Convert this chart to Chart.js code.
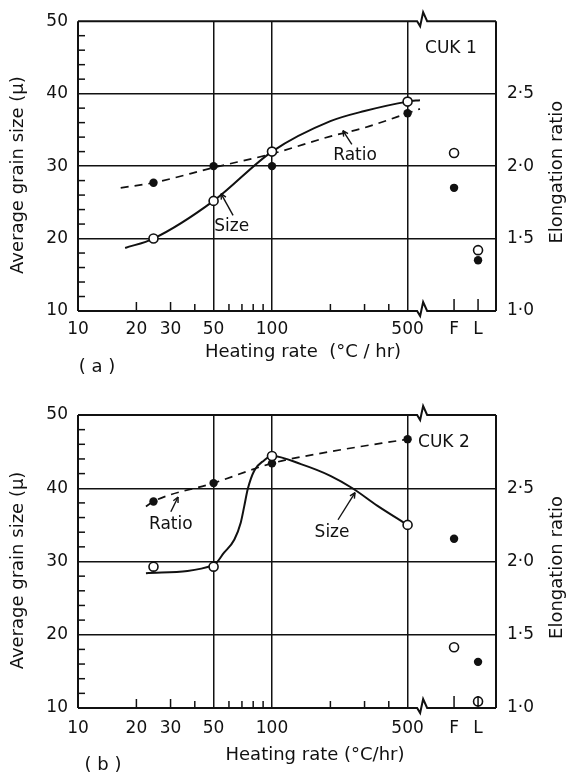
<!DOCTYPE html>
<html>
<head>
<meta charset="utf-8">
<script src="https://cdn.jsdelivr.net/npm/chart.js@4.4.1/dist/chart.umd.min.js"></script>
<style>
  body { margin: 0; background: #fff; }
  canvas { display: block; }
</style>
</head>
<body>
<canvas id="chartA" width="567" height="387"></canvas>
<canvas id="chartB" width="567" height="387"></canvas>
<script>
// heating rates (°C/hr) of the measured specimens, plus the two extra specimens F and L
const rates = [24.5, 50, 100, 500];
const specimens = ['F', 'L'];
const tickValues = [10, 20, 30, 50, 100, 500];
const tickLabels = ['10', '20', '30', '50', '100', '500'];

// CUK 1 -- grain size (μ) and elongation ratio
const sizeA = [20.0, 25.2, 32.0, 38.9];
const ratioA = [1.885, 2.0, 2.0, 2.365];
const specSizeA = [31.8, 18.4];
const specRatioA = [1.85, 1.35];
const sizeCurveRatesA = [17.5, 24.5, 50, 100, 200, 300, 500, 579];
const sizeCurveA = [18.7, 20.0, 25.2, 32.0, 36.2, 37.6, 38.9, 39.1];
const ratioCurveRatesA = [16.6, 24.5, 50, 100, 200, 300, 500, 579];
const ratioCurveA = [1.85, 1.885, 1.99, 2.085, 2.205, 2.265, 2.365, 2.395];

// CUK 2
const sizeB = [29.3, 29.3, 44.4, 35.0];
const ratioB = [2.41, 2.535, 2.67, 2.835];
const specSizeB = [18.3, 10.9];
const specRatioB = [2.155, 1.315];
const sizeCurveRatesB = [22.4, 50, 56.6, 64, 69, 72, 75, 81, 91, 100, 141, 200, 260, 350, 500];
const sizeCurveB = [28.4, 29.5, 31.2, 33.0, 35.3, 37.6, 39.9, 42.4, 43.8, 44.4, 43.3, 41.7, 40.0, 37.6, 35.0];
const ratioCurveRatesB = [22.4, 24.5, 50, 100, 200, 500];
const ratioCurveB = [2.375, 2.41, 2.535, 2.67, 2.75, 2.835];

// where F and L sit on the (broken) rate axis, and where the break is
const SPEC_AT = [868, 1154];
const BREAK_AT = 560;
const X_MAX = 1428;

const INK = '#111';
const NONE = 'rgba(0,0,0,0)';
const FAMILY = '"DejaVu Sans", sans-serif';
Chart.defaults.font.family = FAMILY;
Chart.defaults.color = INK;

const pts = (xs, ys) => xs.map((x, i) => ({ x, y: ys[i] }));

const frame = {
  id: 'frame',
  afterDraw(chart, args, o) {
    const { ctx, chartArea: { left, right, top, bottom }, scales: { x, y } } = chart;
    const line = (x1, y1, x2, y2) => { ctx.beginPath(); ctx.moveTo(x1, y1); ctx.lineTo(x2, y2); ctx.stroke(); };
    ctx.save();
    ctx.strokeStyle = INK;
    ctx.fillStyle = INK;

    // box with the axis break on top and bottom
    ctx.lineWidth = 2;
    const bx = x.getPixelForValue(BREAK_AT);
    [top, bottom].forEach(yy => {
      ctx.beginPath();
      ctx.moveTo(left, yy);
      ctx.lineTo(bx, yy);
      ctx.lineTo(bx + 3, yy + 5);
      ctx.lineTo(bx + 6, yy - 9);
      ctx.lineTo(bx + 10, yy);
      ctx.lineTo(right, yy);
      ctx.stroke();
    });
    line(left, top, left, bottom);
    line(right, top, right, bottom);

    // inward minor ticks
    ctx.lineWidth = 1.5;
    for (let v = 12; v < 50; v += 2) {
      if (v % 10 === 0) continue;
      const py = y.getPixelForValue(v);
      line(left, py, left + 7, py);
    }
    [[20, 9], [30, 9], [40, 7], [60, 7], [70, 7], [80, 7], [90, 7], [200, 7], [300, 7], [400, 7]]
      .concat(SPEC_AT.map(v => [v, 12]))
      .forEach(([v, len]) => {
        const px = x.getPixelForValue(v);
        line(px, bottom, px, bottom - len);
      });

    // axis titles
    ctx.font = '18px ' + FAMILY;
    ctx.textAlign = 'center';
    ctx.textBaseline = 'middle';
    const mid = (top + bottom) / 2;
    ctx.save();
    ctx.translate(18, mid + 9);
    ctx.rotate(-Math.PI / 2);
    ctx.fillText('Average grain size (μ)', 0, 0);
    ctx.restore();
    ctx.save();
    ctx.translate(557, mid + 6);
    ctx.rotate(-Math.PI / 2);
    ctx.fillText('Elongation ratio', 0, 0);
    ctx.restore();
    ctx.fillText(o.xTitle, o.xTitleAt[0], o.xTitleAt[1]);
    ctx.fillText(o.tag, o.tagAt[0], o.tagAt[1]);

    // labels inside the plot, placed in data units
    ctx.font = '17px ' + FAMILY;
    o.notes.forEach(n => {
      ctx.textAlign = n.align || 'center';
      ctx.fillText(n.text, x.getPixelForValue(n.x), y.getPixelForValue(n.y));
    });
    ctx.lineWidth = 1.4;
    o.arrows.forEach(a => {
      const x1 = x.getPixelForValue(a.from[0]), y1 = y.getPixelForValue(a.from[1]);
      const x2 = x.getPixelForValue(a.to[0]), y2 = y.getPixelForValue(a.to[1]);
      line(x1, y1, x2, y2);
      const ang = Math.atan2(y2 - y1, x2 - x1);
      [0.45, -0.45].forEach(d => line(x2, y2, x2 - 6 * Math.cos(ang + d), y2 - 6 * Math.sin(ang + d)));
    });
    ctx.restore();
  }
};

function makePanel(id, p) {
  const allTicks = tickValues.concat(SPEC_AT);
  const allLabels = tickLabels.concat(specimens);
  return new Chart(document.getElementById(id), {
    type: 'line',
    data: {
      datasets: [
        {
          label: 'Size points',
          data: pts(rates, p.size).concat(pts(SPEC_AT, p.specSize)),
          yAxisID: 'y', showLine: false,
          pointRadius: 4.5, pointBorderWidth: 1.6,
          pointBackgroundColor: '#fff', pointBorderColor: INK
        },
        {
          label: 'Ratio points',
          data: pts(rates, p.ratio).concat(pts(SPEC_AT, p.specRatio)),
          yAxisID: 'y2', showLine: false,
          pointRadius: 4.2, pointBorderWidth: 0,
          pointBackgroundColor: INK, pointBorderColor: INK
        },
        {
          label: 'Size',
          data: pts(p.sizeCurveRates, p.sizeCurve),
          yAxisID: 'y', borderColor: INK, borderWidth: 2,
          pointRadius: 0, cubicInterpolationMode: 'monotone'
        },
        {
          label: 'Ratio',
          data: pts(p.ratioCurveRates, p.ratioCurve),
          yAxisID: 'y2', borderColor: INK, borderWidth: 1.7, borderDash: [8, 6],
          pointRadius: 0, cubicInterpolationMode: 'monotone'
        }
      ]
    },
    options: {
      responsive: false,
      animation: false,
      layout: { padding: { top: p.top, left: 0, right: 0, bottom: 0 } },
      plugins: {
        legend: { display: false },
        tooltip: { enabled: false },
        frame: p.frame
      },
      scales: {
        x: {
          type: 'logarithmic', min: 10, max: X_MAX,
          afterBuildTicks: s => { s.ticks = allTicks.map(v => ({ value: v })); },
          afterFit: s => { s.height = p.xHeight; },
          ticks: {
            autoSkip: false, maxRotation: 0, padding: p.xPad,
            font: { size: 17 }, color: INK,
            callback: (v, i) => allLabels[i]
          },
          grid: {
            drawTicks: false, lineWidth: 1.5,
            color: c => [50, 100, 500].includes(c.tick && c.tick.value) ? INK : NONE
          },
          border: { display: false }
        },
        y: {
          position: 'left', min: 10, max: 50,
          afterFit: s => { s.width = 78; },
          ticks: {
            stepSize: 2, autoSkip: false, padding: 10,
            font: { size: 17 }, color: INK,
            callback: v => (v % 10 === 0 ? String(v) : '')
          },
          grid: {
            drawTicks: false, lineWidth: 1.5,
            color: c => [20, 30, 40].includes(c.tick && c.tick.value) ? INK : NONE
          },
          border: { display: false }
        },
        y2: {
          position: 'right', min: 1, max: 3,
          afterFit: s => { s.width = 71; },
          ticks: {
            stepSize: 0.5, autoSkip: false, padding: 11,
            font: { size: 17 }, color: INK,
            callback: v => (v < 2.99 ? v.toFixed(1).replace('.', '·') : '')
          },
          grid: { drawOnChartArea: false, drawTicks: false },
          border: { display: false }
        }
      }
    },
    plugins: [frame]
  });
}

makePanel('chartA', {
  size: sizeA, ratio: ratioA, specSize: specSizeA, specRatio: specRatioA,
  sizeCurveRates: sizeCurveRatesA, sizeCurve: sizeCurveA,
  ratioCurveRates: ratioCurveRatesA, ratioCurve: ratioCurveA,
  top: 18, xHeight: 76, xPad: 8,
  frame: {
    xTitle: 'Heating rate  (°C / hr)', xTitleAt: [303, 352],
    tag: '( a )', tagAt: [97, 367],
    notes: [
      { text: 'CUK 1', x: 615, y: 46.2, align: 'left' },
      { text: 'Ratio', x: 268, y: 31.5 },
      { text: 'Size', x: 62, y: 21.6 }
    ],
    arrows: [
      { from: [258, 33.0], to: [232, 34.9] },
      { from: [63, 23.2], to: [54.6, 26.2] }
    ]
  }
});

makePanel('chartB', {
  size: sizeB, ratio: ratioB, specSize: specSizeB, specRatio: specRatioB,
  sizeCurveRates: sizeCurveRatesB, sizeCurve: sizeCurveB,
  ratioCurveRates: ratioCurveRatesB, ratioCurve: ratioCurveB,
  top: 28, xHeight: 66, xPad: 10,
  frame: {
    xTitle: 'Heating rate (°C/hr)', xTitleAt: [315, 368],
    tag: '( b )', tagAt: [103, 378],
    notes: [
      { text: 'CUK 2', x: 566, y: 46.2, align: 'left' },
      { text: 'Ratio', x: 30.1, y: 35.1 },
      { text: 'Size', x: 204, y: 33.9 }
    ],
    arrows: [
      { from: [30.1, 36.8], to: [32.8, 38.8] },
      { from: [219, 35.7], to: [268, 39.4] }
    ]
  }
});
</script>
</body>
</html>
